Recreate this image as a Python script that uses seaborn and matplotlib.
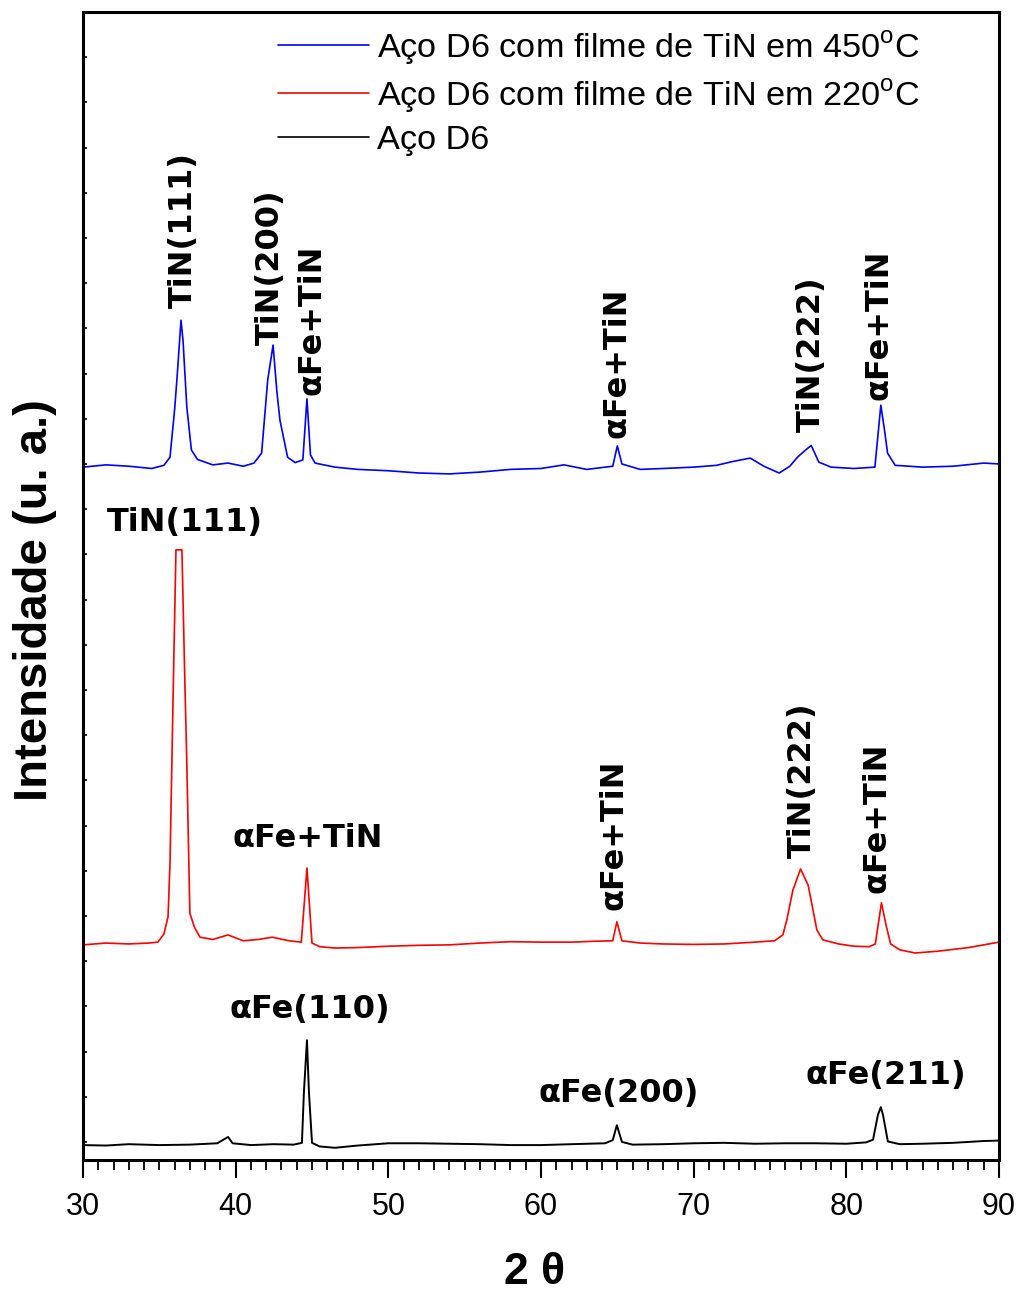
import numpy as np
import pandas as pd
import matplotlib
matplotlib.use('Agg')
import matplotlib.pyplot as plt
import seaborn as sns
from matplotlib.ticker import MultipleLocator

# --- data (2 theta, intensity in a.u.) ---
blue_x = [30.0, 31.5, 33.0, 34.5, 35.3, 35.7, 36.0, 36.15, 36.42, 36.55, 36.8, 37.1, 37.5,
          38.5, 39.5, 40.5, 41.2, 41.7, 42.1, 42.45, 42.7, 42.9, 43.4, 43.9, 44.4, 44.67,
          44.9, 45.2, 46.5, 48, 50, 52, 54, 56, 58, 60, 61.5, 63, 64.7, 65.0, 65.3, 66.5,
          68, 70, 71.5, 72.5, 73.7, 74.6, 75.6, 76.3, 76.8, 77.3, 77.7, 78.2, 79, 80.5,
          81.87, 82.26, 82.5, 82.7, 83.2, 85, 87, 89, 90]
blue_y = [15.93, 15.98, 15.95, 15.90, 15.97, 16.15, 17.2, 17.86, 19.18, 18.74, 17.26, 16.31,
          16.10, 15.98, 16.02, 15.95, 16.02, 16.24, 17.86, 18.63, 17.6, 16.97, 16.15, 16.03,
          16.09, 17.44, 16.2, 16.02, 15.93, 15.88, 15.85, 15.80, 15.78, 15.82, 15.88, 15.90,
          15.98, 15.88, 15.95, 16.40, 16.00, 15.88, 15.90, 15.93, 15.97, 16.05, 16.13, 15.95,
          15.80, 15.95, 16.15, 16.30, 16.41, 16.04, 15.93, 15.90, 15.93, 17.30, 16.75, 16.24,
          15.97, 15.93, 15.95, 16.02, 16.0]

red_x = [30, 31.5, 33, 34.3, 34.9, 35.3, 35.57, 35.7, 35.9, 36.09, 36.48, 36.65, 36.8, 37.0,
         37.3, 37.66, 38.5, 39.5, 40.5, 41.5, 42.4, 43.5, 44.3, 44.67, 45.0, 45.5, 46.5, 48,
         50, 52, 54, 56, 58, 60, 62, 63.5, 64.7, 64.97, 65.3, 66.5, 68, 70, 72, 74, 75.3,
         75.84, 76.1, 76.5, 77.0, 77.5, 78.07, 78.46, 79.5, 80.5, 81.5, 81.9, 82.3, 82.6,
         82.9, 83.5, 84.5, 86, 88, 90]
red_y = [5.36, 5.40, 5.38, 5.40, 5.42, 5.60, 5.98, 7.17, 10.84, 14.1, 14.1, 11.5, 9.38, 6.06,
         5.75, 5.53, 5.48, 5.58, 5.45, 5.48, 5.53, 5.45, 5.42, 7.06, 5.40, 5.32, 5.29, 5.30,
         5.33, 5.35, 5.36, 5.40, 5.43, 5.42, 5.42, 5.44, 5.45, 5.87, 5.45, 5.40, 5.38, 5.37,
         5.38, 5.42, 5.45, 5.58, 5.91, 6.57, 7.04, 6.68, 5.69, 5.47, 5.38, 5.33, 5.32, 5.38,
         6.29, 5.80, 5.38, 5.25, 5.18, 5.22, 5.30, 5.42]

black_x = [30, 31.5, 33, 35, 37, 38.8, 39.5, 39.8, 41, 42.5, 43.8, 44.34, 44.47, 44.67, 44.8,
           45.0, 45.5, 46.5, 48, 50, 52, 54, 56, 58, 60, 62, 64.2, 64.7, 64.97, 65.3, 66, 68,
           70, 72, 74, 76, 78, 80, 81.3, 81.75, 82.07, 82.26, 82.4, 82.72, 83.5, 85, 87, 89, 90]
black_y = [0.93, 0.92, 0.95, 0.93, 0.94, 0.97, 1.11, 0.97, 0.93, 0.95, 0.94, 0.98, 2.1, 3.25,
           2.1, 0.98, 0.90, 0.87, 0.92, 0.97, 0.97, 0.96, 0.95, 0.93, 0.93, 0.95, 0.97, 1.04,
           1.37, 1.00, 0.94, 0.95, 0.97, 0.98, 0.96, 0.97, 0.97, 0.96, 0.99, 1.05, 1.6, 1.77,
           1.60, 1.01, 0.95, 0.96, 0.98, 1.02, 1.03]

series_names = ['Aço D6 com filme de TiN em 450$^\\mathrm{o}$C',
                'Aço D6 com filme de TiN em 220$^\\mathrm{o}$C',
                'Aço D6']
series_colors = ['#0000ff', '#ff0000', '#000000']

# peak labels: (text, x, y, rotation)
peak_labels = [
    ('TiN(111)', 36.55, 19.45, 90), ('TiN(200)', 42.25, 18.63, 90),
    ('αFe+TiN', 45.0, 17.52, 90), ('αFe+TiN', 64.97, 16.57, 90),
    ('TiN(222)', 77.68, 16.71, 90), ('αFe+TiN', 82.13, 17.41, 90),
    ('TiN(111)', 36.68, 14.7, 0), ('αFe+TiN', 44.73, 7.72, 0),
    ('αFe+TiN', 64.77, 6.13, 90), ('TiN(222)', 77.15, 7.28, 90),
    ('αFe+TiN', 82.0, 6.51, 90),
    ('αFe(110)', 44.87, 3.92, 0), ('αFe(200)', 65.1, 2.08, 0), ('αFe(211)', 82.59, 2.48, 0),
]

sns.set_style('ticks')
plt.rcParams['font.family'] = ['Liberation Sans', 'DejaVu Sans']
plt.rcParams['mathtext.fontset'] = 'custom'
plt.rcParams['mathtext.rm'] = 'Liberation Sans'
plt.rcParams['text.color'] = 'black'
plt.rcParams['axes.edgecolor'] = 'black'
plt.rcParams['xtick.color'] = 'black'
plt.rcParams['ytick.color'] = 'black'
plt.rcParams['xtick.labelcolor'] = 'black'

fig = plt.figure(figsize=(10.22, 12.94), dpi=100)
ax = fig.add_axes([83 / 1022, 1 - 1160 / 1294, 916 / 1022, 1148 / 1294])

all_x = [blue_x, red_x, black_x]
all_y = [blue_y, red_y, black_y]
widths = [1.2, 1.2, 1.4]
for xs, ys, name, col, lw in zip(all_x, all_y, series_names, series_colors, widths):
    df = pd.DataFrame({'theta': xs, 'I': ys})
    sns.lineplot(data=df, x='theta', y='I', color=col, lw=lw, label=name, ax=ax)

for txt, x, y, rot in peak_labels:
    if rot == 90:
        ax.text(x, y, txt, rotation=90, ha='center', va='bottom', fontsize=23,
                fontweight='bold', family='DejaVu Sans', color='black')
    else:
        ax.text(x, y, txt, ha='center', va='center', fontsize=23,
                fontweight='bold', family='DejaVu Sans', color='black')

ax.set_xlim(30, 90)
ax.set_ylim(0.6, 26.0)
ax.xaxis.set_major_locator(MultipleLocator(10))
ax.xaxis.set_minor_locator(MultipleLocator(1))
ax.yaxis.set_major_locator(MultipleLocator(1))
ax.set_yticklabels([])
ax.tick_params(axis='x', which='major', direction='out', length=13, width=1.5,
               labelsize=22, pad=10)
ax.tick_params(axis='x', which='minor', direction='out', length=7, width=1.3)
ax.tick_params(axis='y', which='major', direction='in', length=3, width=1.2)
for sp in ax.spines.values():
    sp.set_linewidth(2.2)
    sp.set_color('black')
ax.set_xlabel('')
ax.set_ylabel('')

fig.text(535 / 1022, 1 - 1272 / 1294, '2 θ', ha='center', va='center', fontsize=32,
         fontweight='bold', color='black')
fig.text(35 / 1022, 1 - 600 / 1294, 'Intensidade (u. a.)', rotation=90, ha='center',
         va='center', fontsize=34, fontweight='bold', color='black')

leg = ax.legend(loc='upper left', bbox_to_anchor=(0.205, 0.991), frameon=False,
                fontsize=24.7, handlelength=2.65, handletextpad=0.25, labelspacing=0.3,
                borderaxespad=0, borderpad=0.2)
for h in leg.get_lines():
    h.set_linewidth(1.2)
for t in leg.get_texts():
    t.set_color('black')

fig.savefig('out.png', dpi=100)
